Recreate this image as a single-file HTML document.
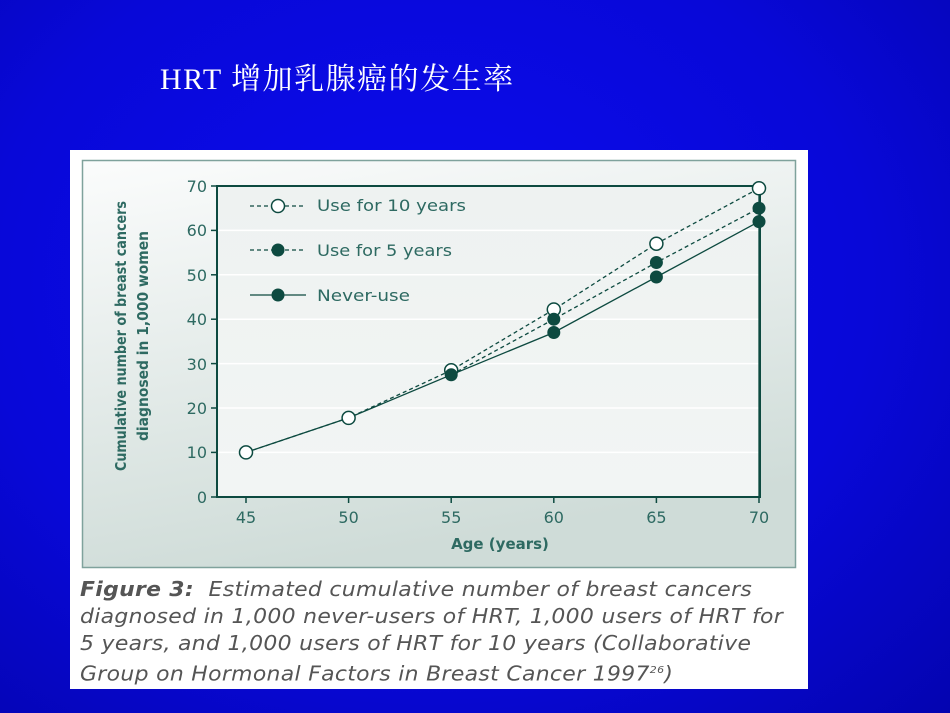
<!DOCTYPE html>
<html><head><meta charset="utf-8"><style>
body{margin:0;width:950px;height:713px;overflow:hidden;background:radial-gradient(ellipse at 45% 40%,#0c0cf0 0%,#0808d8 60%,#0404b0 100%);font-family:"Liberation Sans",sans-serif;}
.t{position:absolute;left:160px;top:54px;color:#fff;font:30px "Liberation Serif","Noto Serif CJK SC",serif;letter-spacing:1.5px;}
.box{position:absolute;left:70px;top:150px;width:738px;height:539px;background:#fff;}
.cap{position:absolute;left:80px;top:576px;color:#555;font:italic 20px "DejaVu Sans",sans-serif;line-height:27px;letter-spacing:0.3px;white-space:nowrap;transform:scaleX(1.095);transform-origin:left}
</style></head><body>
<div class="t">HRT 增加乳腺癌的发生率</div>
<div class="box"></div>
<svg width="950" height="713" style="position:absolute;left:0;top:0">
<defs><linearGradient id="g" x1="0" y1="0" x2="0.3" y2="1"><stop offset="0" stop-color="#fbfcfc"/><stop offset="1" stop-color="#cfdcd8"/></linearGradient>
<linearGradient id="p" x1="0" y1="0" x2="0" y2="1"><stop offset="0" stop-color="#eef2f1"/><stop offset="1" stop-color="#f2f5f4"/></linearGradient></defs>
<rect x="82.5" y="160.5" width="713" height="407" fill="url(#g)" stroke="#7fa29c" stroke-width="1.5"/>
<rect x="217" y="186" width="543" height="311" fill="url(#p)" stroke="#0d4a40" stroke-width="2"/>
<g stroke="#fff" stroke-width="1.5">
<line x1="218" x2="759" y1="230.4" y2="230.4"/><line x1="218" x2="759" y1="274.8" y2="274.8"/><line x1="218" x2="759" y1="319.2" y2="319.2"/><line x1="218" x2="759" y1="363.6" y2="363.6"/><line x1="218" x2="759" y1="408" y2="408"/><line x1="218" x2="759" y1="452.4" y2="452.4"/></g>
<g stroke="#0d4a40" stroke-width="1.5">
<line x1="211" x2="217" y1="186" y2="186"/><line x1="211" x2="217" y1="230.4" y2="230.4"/><line x1="211" x2="217" y1="274.8" y2="274.8"/><line x1="211" x2="217" y1="319.2" y2="319.2"/><line x1="211" x2="217" y1="363.6" y2="363.6"/><line x1="211" x2="217" y1="408" y2="408"/><line x1="211" x2="217" y1="452.4" y2="452.4"/><line x1="211" x2="217" y1="497" y2="497"/>
<line x1="246" x2="246" y1="497" y2="503"/><line x1="348.6" x2="348.6" y1="497" y2="503"/><line x1="451.2" x2="451.2" y1="497" y2="503"/><line x1="553.8" x2="553.8" y1="497" y2="503"/><line x1="656.4" x2="656.4" y1="497" y2="503"/><line x1="759" x2="759" y1="497" y2="503"/></g>
<g fill="#2e6a62" font-size="16" font-family="DejaVu Sans,sans-serif" text-anchor="end">
<text x="207" y="192">70</text><text x="207" y="236">60</text><text x="207" y="281">50</text><text x="207" y="325">40</text><text x="207" y="370">30</text><text x="207" y="414">20</text><text x="207" y="458">10</text><text x="207" y="503">0</text></g>
<g fill="#2e6a62" font-size="16" font-family="DejaVu Sans,sans-serif" text-anchor="middle">
<text x="246" y="523">45</text><text x="348.6" y="523">50</text><text x="451.2" y="523">55</text><text x="553.8" y="523">60</text><text x="656.4" y="523">65</text><text x="759" y="523">70</text>
<text x="500" y="549" font-weight="bold" font-size="15">Age (years)</text>
<g transform="translate(126,336) rotate(-90)" font-weight="bold" font-size="15"><text x="0" y="0" textLength="270" lengthAdjust="spacingAndGlyphs">Cumulative number of breast cancers</text><text x="0" y="22" textLength="210" lengthAdjust="spacingAndGlyphs">diagnosed in 1,000 women</text></g></g>
<g fill="none" stroke="#0d4a40" stroke-width="1.3">
<polyline points="246,452.4 348.6,417.9 451.2,370.3 553.8,309.5 656.4,243.7 759,188.3" stroke-dasharray="4,3"/>
<polyline points="451.2,374.8 553.8,319.2 656.4,262.5 759,208.2" stroke-dasharray="4,3"/>
<polyline points="246,452.4 348.6,417.9 451.2,374.8 553.8,332.5 656.4,277 759,221.6"/>
<line x1="759" y1="188" x2="759" y2="497"/>
<line x1="250" x2="306" y1="206" y2="206" stroke-dasharray="4,3"/><line x1="250" x2="306" y1="250" y2="250" stroke-dasharray="4,3"/><line x1="250" x2="306" y1="295" y2="295"/></g>
<g fill="#fff" stroke="#0d4a40" stroke-width="1.5">
<circle cx="246" cy="452.4" r="6.5"/><circle cx="348.6" cy="417.9" r="6.5"/><circle cx="451.2" cy="370.3" r="6.5"/><circle cx="553.8" cy="309.5" r="6.5"/><circle cx="656.4" cy="243.7" r="6.5"/><circle cx="759" cy="188.3" r="6.5"/><circle cx="278" cy="206" r="6.5"/></g>
<g fill="#0d4a40">
<circle cx="553.8" cy="319.2" r="6.5"/><circle cx="656.4" cy="262.5" r="6.5"/><circle cx="759" cy="208.2" r="6.5"/>
<circle cx="451.2" cy="374.8" r="6.5"/><circle cx="553.8" cy="332.5" r="6.5"/><circle cx="656.4" cy="277" r="6.5"/><circle cx="759" cy="221.6" r="6.5"/>
<circle cx="278" cy="250" r="6.5"/><circle cx="278" cy="295" r="6.5"/></g>
<g fill="#2e6a62" font-size="16" font-family="DejaVu Sans,sans-serif">
<text x="317" y="211" textLength="149" lengthAdjust="spacingAndGlyphs">Use for 10 years</text><text x="317" y="256" textLength="135" lengthAdjust="spacingAndGlyphs">Use for 5 years</text><text x="317" y="301" textLength="93" lengthAdjust="spacingAndGlyphs">Never-use</text></g>
</svg>
<div class="cap"><b>Figure 3:</b> &nbsp;Estimated cumulative number of breast cancers<br>diagnosed in 1,000 never-users of HRT, 1,000 users of HRT for<br>5 years, and 1,000 users of HRT for 10 years (Collaborative<br>Group on Hormonal Factors in Breast Cancer 1997<sup style="font-size:10px">26</sup>)</div>
</body></html>
